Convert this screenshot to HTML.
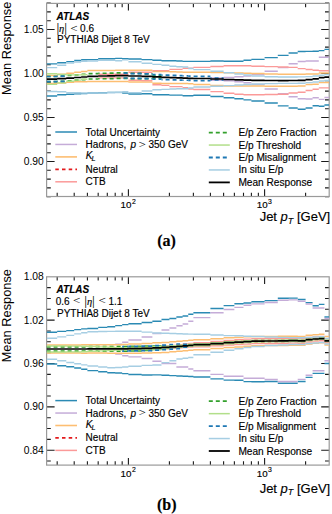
<!DOCTYPE html>
<html><head><meta charset="utf-8"><title>Mean Response</title>
<style>
html,body{margin:0;padding:0;background:#fff;}
body{width:332px;height:514px;overflow:hidden;}
svg{display:block;font-family:"Liberation Sans",sans-serif;}
text{stroke:#000;stroke-width:0.15px;fill:#000;}
text.ns{stroke:none;}
</style></head><body>
<svg width="332" height="514" viewBox="0 0 332 514">
<defs>
<clipPath id="ca"><rect x="46.6" y="3.4" width="282.59999999999997" height="193.1"/></clipPath>
<clipPath id="cb"><rect x="46.6" y="276.8" width="282.59999999999997" height="188.3"/></clipPath>
</defs>
<rect width="332" height="514" fill="#fff"/>
<g><path d="M57.18 196.5V192.7M57.18 3.4V7.199999999999999" stroke="#1a1a1a" stroke-width="1.1"/>
<path d="M74.20 196.5V192.7M74.20 3.4V7.199999999999999" stroke="#1a1a1a" stroke-width="1.1"/>
<path d="M87.40 196.5V192.7M87.40 3.4V7.199999999999999" stroke="#1a1a1a" stroke-width="1.1"/>
<path d="M98.18 196.5V192.7M98.18 3.4V7.199999999999999" stroke="#1a1a1a" stroke-width="1.1"/>
<path d="M107.30 196.5V192.7M107.30 3.4V7.199999999999999" stroke="#1a1a1a" stroke-width="1.1"/>
<path d="M115.20 196.5V192.7M115.20 3.4V7.199999999999999" stroke="#1a1a1a" stroke-width="1.1"/>
<path d="M122.17 196.5V192.7M122.17 3.4V7.199999999999999" stroke="#1a1a1a" stroke-width="1.1"/>
<path d="M169.40 196.5V192.7M169.40 3.4V7.199999999999999" stroke="#1a1a1a" stroke-width="1.1"/>
<path d="M193.38 196.5V192.7M193.38 3.4V7.199999999999999" stroke="#1a1a1a" stroke-width="1.1"/>
<path d="M210.40 196.5V192.7M210.40 3.4V7.199999999999999" stroke="#1a1a1a" stroke-width="1.1"/>
<path d="M223.60 196.5V192.7M223.60 3.4V7.199999999999999" stroke="#1a1a1a" stroke-width="1.1"/>
<path d="M234.38 196.5V192.7M234.38 3.4V7.199999999999999" stroke="#1a1a1a" stroke-width="1.1"/>
<path d="M243.50 196.5V192.7M243.50 3.4V7.199999999999999" stroke="#1a1a1a" stroke-width="1.1"/>
<path d="M251.40 196.5V192.7M251.40 3.4V7.199999999999999" stroke="#1a1a1a" stroke-width="1.1"/>
<path d="M258.37 196.5V192.7M258.37 3.4V7.199999999999999" stroke="#1a1a1a" stroke-width="1.1"/>
<path d="M305.60 196.5V192.7M305.60 3.4V7.199999999999999" stroke="#1a1a1a" stroke-width="1.1"/>
<path d="M128.40 196.5V189.3M128.40 3.4V10.6" stroke="#1a1a1a" stroke-width="1.1"/>
<path d="M264.60 196.5V189.3M264.60 3.4V10.6" stroke="#1a1a1a" stroke-width="1.1"/>
<path d="M46.6 3.10H50.800000000000004M329.2 3.10H325.0" stroke="#1a1a1a" stroke-width="1.1"/>
<path d="M46.6 11.90H50.800000000000004M329.2 11.90H325.0" stroke="#1a1a1a" stroke-width="1.1"/>
<path d="M46.6 20.70H50.800000000000004M329.2 20.70H325.0" stroke="#1a1a1a" stroke-width="1.1"/>
<path d="M46.6 38.30H50.800000000000004M329.2 38.30H325.0" stroke="#1a1a1a" stroke-width="1.1"/>
<path d="M46.6 47.10H50.800000000000004M329.2 47.10H325.0" stroke="#1a1a1a" stroke-width="1.1"/>
<path d="M46.6 55.90H50.800000000000004M329.2 55.90H325.0" stroke="#1a1a1a" stroke-width="1.1"/>
<path d="M46.6 64.70H50.800000000000004M329.2 64.70H325.0" stroke="#1a1a1a" stroke-width="1.1"/>
<path d="M46.6 82.30H50.800000000000004M329.2 82.30H325.0" stroke="#1a1a1a" stroke-width="1.1"/>
<path d="M46.6 91.10H50.800000000000004M329.2 91.10H325.0" stroke="#1a1a1a" stroke-width="1.1"/>
<path d="M46.6 99.90H50.800000000000004M329.2 99.90H325.0" stroke="#1a1a1a" stroke-width="1.1"/>
<path d="M46.6 108.70H50.800000000000004M329.2 108.70H325.0" stroke="#1a1a1a" stroke-width="1.1"/>
<path d="M46.6 126.30H50.800000000000004M329.2 126.30H325.0" stroke="#1a1a1a" stroke-width="1.1"/>
<path d="M46.6 135.10H50.800000000000004M329.2 135.10H325.0" stroke="#1a1a1a" stroke-width="1.1"/>
<path d="M46.6 143.90H50.800000000000004M329.2 143.90H325.0" stroke="#1a1a1a" stroke-width="1.1"/>
<path d="M46.6 152.70H50.800000000000004M329.2 152.70H325.0" stroke="#1a1a1a" stroke-width="1.1"/>
<path d="M46.6 170.30H50.800000000000004M329.2 170.30H325.0" stroke="#1a1a1a" stroke-width="1.1"/>
<path d="M46.6 179.10H50.800000000000004M329.2 179.10H325.0" stroke="#1a1a1a" stroke-width="1.1"/>
<path d="M46.6 187.90H50.800000000000004M329.2 187.90H325.0" stroke="#1a1a1a" stroke-width="1.1"/>
<path d="M46.6 196.70H50.800000000000004M329.2 196.70H325.0" stroke="#1a1a1a" stroke-width="1.1"/>
<path d="M46.6 29.50H54.6M329.2 29.50H321.2" stroke="#1a1a1a" stroke-width="1.1"/>
<path d="M46.6 73.50H54.6M329.2 73.50H321.2" stroke="#1a1a1a" stroke-width="1.1"/>
<path d="M46.6 117.50H54.6M329.2 117.50H321.2" stroke="#1a1a1a" stroke-width="1.1"/>
<path d="M46.6 161.50H54.6M329.2 161.50H321.2" stroke="#1a1a1a" stroke-width="1.1"/>
<rect x="46.6" y="3.4" width="282.59999999999997" height="193.1" fill="none" stroke="#9a9a9a" stroke-width="1.2"/>
<text class="ns" x="43.8" y="33.10" text-anchor="end" font-size="10.3">1.05</text>
<text class="ns" x="43.8" y="77.10" text-anchor="end" font-size="10.3">1.00</text>
<text class="ns" x="43.8" y="121.10" text-anchor="end" font-size="10.3">0.95</text>
<text class="ns" x="43.8" y="165.10" text-anchor="end" font-size="10.3">0.90</text></g>
<g><path d="M57.18 465.1V461.3M57.18 276.8V280.6" stroke="#1a1a1a" stroke-width="1.1"/>
<path d="M74.20 465.1V461.3M74.20 276.8V280.6" stroke="#1a1a1a" stroke-width="1.1"/>
<path d="M87.40 465.1V461.3M87.40 276.8V280.6" stroke="#1a1a1a" stroke-width="1.1"/>
<path d="M98.18 465.1V461.3M98.18 276.8V280.6" stroke="#1a1a1a" stroke-width="1.1"/>
<path d="M107.30 465.1V461.3M107.30 276.8V280.6" stroke="#1a1a1a" stroke-width="1.1"/>
<path d="M115.20 465.1V461.3M115.20 276.8V280.6" stroke="#1a1a1a" stroke-width="1.1"/>
<path d="M122.17 465.1V461.3M122.17 276.8V280.6" stroke="#1a1a1a" stroke-width="1.1"/>
<path d="M169.40 465.1V461.3M169.40 276.8V280.6" stroke="#1a1a1a" stroke-width="1.1"/>
<path d="M193.38 465.1V461.3M193.38 276.8V280.6" stroke="#1a1a1a" stroke-width="1.1"/>
<path d="M210.40 465.1V461.3M210.40 276.8V280.6" stroke="#1a1a1a" stroke-width="1.1"/>
<path d="M223.60 465.1V461.3M223.60 276.8V280.6" stroke="#1a1a1a" stroke-width="1.1"/>
<path d="M234.38 465.1V461.3M234.38 276.8V280.6" stroke="#1a1a1a" stroke-width="1.1"/>
<path d="M243.50 465.1V461.3M243.50 276.8V280.6" stroke="#1a1a1a" stroke-width="1.1"/>
<path d="M251.40 465.1V461.3M251.40 276.8V280.6" stroke="#1a1a1a" stroke-width="1.1"/>
<path d="M258.37 465.1V461.3M258.37 276.8V280.6" stroke="#1a1a1a" stroke-width="1.1"/>
<path d="M305.60 465.1V461.3M305.60 276.8V280.6" stroke="#1a1a1a" stroke-width="1.1"/>
<path d="M128.40 465.1V457.90000000000003M128.40 276.8V284.0" stroke="#1a1a1a" stroke-width="1.1"/>
<path d="M264.60 465.1V457.90000000000003M264.60 276.8V284.0" stroke="#1a1a1a" stroke-width="1.1"/>
<path d="M46.6 287.64H50.800000000000004M329.2 287.64H325.0" stroke="#1a1a1a" stroke-width="1.1"/>
<path d="M46.6 298.48H50.800000000000004M329.2 298.48H325.0" stroke="#1a1a1a" stroke-width="1.1"/>
<path d="M46.6 309.31H50.800000000000004M329.2 309.31H325.0" stroke="#1a1a1a" stroke-width="1.1"/>
<path d="M46.6 330.99H50.800000000000004M329.2 330.99H325.0" stroke="#1a1a1a" stroke-width="1.1"/>
<path d="M46.6 341.82H50.800000000000004M329.2 341.82H325.0" stroke="#1a1a1a" stroke-width="1.1"/>
<path d="M46.6 352.66H50.800000000000004M329.2 352.66H325.0" stroke="#1a1a1a" stroke-width="1.1"/>
<path d="M46.6 374.34H50.800000000000004M329.2 374.34H325.0" stroke="#1a1a1a" stroke-width="1.1"/>
<path d="M46.6 385.18H50.800000000000004M329.2 385.18H325.0" stroke="#1a1a1a" stroke-width="1.1"/>
<path d="M46.6 396.01H50.800000000000004M329.2 396.01H325.0" stroke="#1a1a1a" stroke-width="1.1"/>
<path d="M46.6 417.69H50.800000000000004M329.2 417.69H325.0" stroke="#1a1a1a" stroke-width="1.1"/>
<path d="M46.6 428.52H50.800000000000004M329.2 428.52H325.0" stroke="#1a1a1a" stroke-width="1.1"/>
<path d="M46.6 439.36H50.800000000000004M329.2 439.36H325.0" stroke="#1a1a1a" stroke-width="1.1"/>
<path d="M46.6 461.04H50.800000000000004M329.2 461.04H325.0" stroke="#1a1a1a" stroke-width="1.1"/>
<path d="M46.6 320.15H54.6M329.2 320.15H321.2" stroke="#1a1a1a" stroke-width="1.1"/>
<path d="M46.6 363.50H54.6M329.2 363.50H321.2" stroke="#1a1a1a" stroke-width="1.1"/>
<path d="M46.6 406.85H54.6M329.2 406.85H321.2" stroke="#1a1a1a" stroke-width="1.1"/>
<path d="M46.6 450.20H54.6M329.2 450.20H321.2" stroke="#1a1a1a" stroke-width="1.1"/>
<rect x="46.6" y="276.8" width="282.59999999999997" height="188.3" fill="none" stroke="#9a9a9a" stroke-width="1.2"/>
<text class="ns" x="43.8" y="280.40" text-anchor="end" font-size="10.3">1.08</text>
<text class="ns" x="43.8" y="323.75" text-anchor="end" font-size="10.3">1.02</text>
<text class="ns" x="43.8" y="367.10" text-anchor="end" font-size="10.3">0.96</text>
<text class="ns" x="43.8" y="410.45" text-anchor="end" font-size="10.3">0.90</text>
<text class="ns" x="43.8" y="453.80" text-anchor="end" font-size="10.3">0.84</text></g>
<g clip-path="url(#ca)"><path d="M46.60 63.90H57.18M57.18 62.80H66.30M66.30 61.60H74.20M74.20 60.50H81.17M81.17 59.80H87.40M87.40 59.60H98.18M98.18 58.70H107.30M107.30 58.70H115.20M115.20 58.40H122.17M122.17 58.70H128.40M128.40 59.00H141.60M141.60 59.60H152.38M152.38 60.20H161.50M161.50 60.70H169.40M169.40 60.70H176.37M176.37 61.00H182.60M182.60 61.40H188.24M188.24 61.40H193.38M193.38 61.40H210.40M210.40 61.00H223.60M223.60 61.30H234.38M234.38 61.30H243.50M243.50 60.20H251.40M251.40 59.40H264.60M264.60 57.60H277.80M277.80 55.40H288.58M288.58 53.00H297.70M297.70 51.50H305.60M305.60 51.40H312.57M312.57 51.20H318.80M318.80 50.60H324.44M324.44 49.40H329.20" stroke="#2b8ab4" stroke-width="1.4" fill="none"/>
<path d="M46.60 96.00H57.18M57.18 94.80H66.30M66.30 94.20H74.20M74.20 93.90H81.17M81.17 93.60H87.40M87.40 93.00H98.18M98.18 92.70H107.30M107.30 92.40H115.20M115.20 92.40H122.17M122.17 93.10H128.40M128.40 94.00H141.60M141.60 93.70H152.38M152.38 94.70H161.50M161.50 94.70H169.40M169.40 95.10H176.37M176.37 95.10H182.60M182.60 95.70H188.24M188.24 95.70H193.38M193.38 95.30H210.40M210.40 96.50H223.60M223.60 97.80H234.38M234.38 98.70H243.50M243.50 99.90H251.40M251.40 101.00H264.60M264.60 103.00H277.80M277.80 105.90H288.58M288.58 108.00H297.70M297.70 109.30H305.60M305.60 108.00H312.57M312.57 105.70H318.80M318.80 106.30H324.44M324.44 105.00H329.20" stroke="#2b8ab4" stroke-width="1.4" fill="none"/>
<path d="M210.40 78.00H223.60M223.60 77.50H234.38M234.38 76.80H243.50M243.50 76.00H251.40M251.40 74.60H264.60M264.60 71.30H277.80M277.80 67.60H288.58M288.58 63.80H297.70M297.70 61.50H305.60M305.60 61.00H312.57M312.57 61.00H318.80M318.80 57.30H324.44M324.44 57.30H329.20" stroke="#c5acd8" stroke-width="1.4" fill="none"/>
<path d="M210.40 80.20H223.60M223.60 80.80H234.38M234.38 81.80H243.50M243.50 82.70H251.40M251.40 84.50H264.60M264.60 89.00H277.80M277.80 93.60H288.58M288.58 96.80H297.70M297.70 98.80H305.60M305.60 99.00H312.57M312.57 97.80H318.80M318.80 99.40H324.44M324.44 97.50H329.20" stroke="#c5acd8" stroke-width="1.4" fill="none"/>
<path d="M46.60 75.40H57.18M57.18 74.20H66.30M66.30 73.20H74.20M74.20 72.30H81.17M81.17 71.40H87.40M87.40 70.60H98.18M98.18 70.50H107.30M107.30 70.40H115.20M115.20 70.30H122.17M122.17 70.30H128.40M128.40 70.20H141.60M141.60 70.30H152.38M152.38 71.50H161.50M161.50 71.60H169.40M169.40 71.80H176.37M176.37 72.00H182.60M182.60 72.20H188.24M188.24 72.30H193.38M193.38 72.30H210.40M210.40 72.50H223.60M223.60 72.80H234.38M234.38 73.00H243.50M243.50 73.30H251.40M251.40 73.60H264.60M264.60 74.00H277.80M277.80 74.20H288.58M288.58 74.20H297.70M297.70 74.20H305.60M305.60 74.10H312.57M312.57 74.00H318.80M318.80 73.10H324.44M324.44 73.10H329.20" stroke="#fdbe72" stroke-width="1.5" fill="none"/>
<path d="M46.60 83.50H57.18M57.18 82.90H66.30M66.30 82.30H74.20M74.20 81.70H81.17M81.17 81.70H87.40M87.40 81.50H98.18M98.18 81.50H107.30M107.30 81.50H115.20M115.20 81.50H122.17M122.17 81.50H128.40M128.40 82.00H141.60M141.60 82.00H152.38M152.38 83.30H161.50M161.50 83.50H169.40M169.40 83.60H176.37M176.37 83.60H182.60M182.60 83.60H188.24M188.24 83.70H193.38M193.38 84.40H210.40M210.40 85.40H223.60M223.60 85.90H234.38M234.38 86.00H243.50M243.50 86.00H251.40M251.40 86.10H264.60M264.60 86.30H277.80M277.80 86.30H288.58M288.58 86.30H297.70M297.70 86.10H305.60M305.60 84.60H312.57M312.57 84.30H318.80M318.80 82.50H324.44M324.44 82.50H329.20" stroke="#fdbe72" stroke-width="1.5" fill="none"/>
<path d="M98.18 74.20H107.30M107.30 74.20H115.20M115.20 74.20H122.17M122.17 74.20H128.40M128.40 72.20H141.60M141.60 72.20H152.38M152.38 70.60H161.50M161.50 70.60H169.40M169.40 69.40H176.37M176.37 69.40H182.60M182.60 68.20H188.24M188.24 68.20H193.38M193.38 67.40H210.40M210.40 66.50H223.60M223.60 65.70H234.38M234.38 65.70H243.50M243.50 65.70H251.40M251.40 66.30H264.60M264.60 66.60H277.80M277.80 67.00H288.58M288.58 67.40H297.70M297.70 68.60H305.60M305.60 69.50H312.57M312.57 70.20H318.80M318.80 70.70H324.44M324.44 70.70H329.20" stroke="#fb9a99" stroke-width="1.4" fill="none"/>
<path d="M98.18 77.90H107.30M107.30 77.90H115.20M115.20 77.90H122.17M122.17 77.90H128.40M128.40 80.30H141.60M141.60 80.60H152.38M152.38 84.80H161.50M161.50 85.40H169.40M169.40 86.60H176.37M176.37 86.60H182.60M182.60 87.80H188.24M188.24 89.00H193.38M193.38 89.50H210.40M210.40 91.60H223.60M223.60 93.20H234.38M234.38 94.20H243.50M243.50 94.70H251.40M251.40 94.70H264.60M264.60 94.50H277.80M277.80 94.20H288.58M288.58 93.00H297.70M297.70 92.20H305.60M305.60 90.50H312.57M312.57 89.20H318.80M318.80 87.90H324.44M324.44 87.90H329.20" stroke="#fb9a99" stroke-width="1.4" fill="none"/>
<path d="M46.60 76.50H57.18" stroke="#33a02c" stroke-width="1.7" fill="none" stroke-dasharray="4 3" stroke-dashoffset="0.00"/>
<path d="M57.18 76.08H66.30" stroke="#33a02c" stroke-width="1.7" fill="none" stroke-dasharray="4 3" stroke-dashoffset="3.58"/>
<path d="M66.30 75.45H74.20" stroke="#33a02c" stroke-width="1.7" fill="none" stroke-dasharray="4 3" stroke-dashoffset="5.70"/>
<path d="M74.20 74.83H81.17" stroke="#33a02c" stroke-width="1.7" fill="none" stroke-dasharray="4 3" stroke-dashoffset="6.60"/>
<path d="M81.17 74.30H87.40" stroke="#33a02c" stroke-width="1.7" fill="none" stroke-dasharray="4 3" stroke-dashoffset="6.57"/>
<path d="M87.40 73.58H98.18" stroke="#33a02c" stroke-width="1.7" fill="none" stroke-dasharray="4 3" stroke-dashoffset="5.80"/>
<path d="M98.18 73.26H107.30" stroke="#33a02c" stroke-width="1.7" fill="none" stroke-dasharray="4 3" stroke-dashoffset="2.58"/>
<path d="M107.30 73.04H115.20" stroke="#33a02c" stroke-width="1.7" fill="none" stroke-dasharray="4 3" stroke-dashoffset="4.70"/>
<path d="M115.20 72.82H122.17" stroke="#33a02c" stroke-width="1.7" fill="none" stroke-dasharray="4 3" stroke-dashoffset="5.60"/>
<path d="M122.17 72.80H128.40" stroke="#33a02c" stroke-width="1.7" fill="none" stroke-dasharray="4 3" stroke-dashoffset="5.57"/>
<path d="M128.40 73.40H141.60" stroke="#33a02c" stroke-width="1.7" fill="none" stroke-dasharray="4 3" stroke-dashoffset="4.80"/>
<path d="M141.60 73.90H152.38" stroke="#33a02c" stroke-width="1.7" fill="none" stroke-dasharray="4 3" stroke-dashoffset="4.00"/>
<path d="M152.38 75.70H161.50" stroke="#33a02c" stroke-width="1.7" fill="none" stroke-dasharray="4 3" stroke-dashoffset="0.78"/>
<path d="M46.60 81.70H57.18" stroke="#33a02c" stroke-width="1.7" fill="none" stroke-dasharray="4 3" stroke-dashoffset="0.00"/>
<path d="M57.18 81.33H66.30" stroke="#33a02c" stroke-width="1.7" fill="none" stroke-dasharray="4 3" stroke-dashoffset="3.58"/>
<path d="M66.30 80.75H74.20" stroke="#33a02c" stroke-width="1.7" fill="none" stroke-dasharray="4 3" stroke-dashoffset="5.70"/>
<path d="M74.20 80.17H81.17" stroke="#33a02c" stroke-width="1.7" fill="none" stroke-dasharray="4 3" stroke-dashoffset="6.60"/>
<path d="M81.17 79.70H87.40" stroke="#33a02c" stroke-width="1.7" fill="none" stroke-dasharray="4 3" stroke-dashoffset="6.57"/>
<path d="M87.40 79.02H98.18" stroke="#33a02c" stroke-width="1.7" fill="none" stroke-dasharray="4 3" stroke-dashoffset="5.80"/>
<path d="M98.18 78.74H107.30" stroke="#33a02c" stroke-width="1.7" fill="none" stroke-dasharray="4 3" stroke-dashoffset="2.58"/>
<path d="M107.30 78.56H115.20" stroke="#33a02c" stroke-width="1.7" fill="none" stroke-dasharray="4 3" stroke-dashoffset="4.70"/>
<path d="M115.20 78.38H122.17" stroke="#33a02c" stroke-width="1.7" fill="none" stroke-dasharray="4 3" stroke-dashoffset="5.60"/>
<path d="M122.17 78.40H128.40" stroke="#33a02c" stroke-width="1.7" fill="none" stroke-dasharray="4 3" stroke-dashoffset="5.57"/>
<path d="M128.40 78.60H141.60" stroke="#33a02c" stroke-width="1.7" fill="none" stroke-dasharray="4 3" stroke-dashoffset="4.80"/>
<path d="M141.60 78.70H152.38" stroke="#33a02c" stroke-width="1.7" fill="none" stroke-dasharray="4 3" stroke-dashoffset="4.00"/>
<path d="M152.38 78.10H161.50" stroke="#33a02c" stroke-width="1.7" fill="none" stroke-dasharray="4 3" stroke-dashoffset="0.78"/>
<path d="M46.60 73.80H57.18M57.18 74.50H66.30M66.30 74.90H74.20M74.20 74.90H81.17M81.17 74.70H87.40" stroke="#b2df8a" stroke-width="1.4" fill="none"/>
<path d="M46.60 84.40H57.18M57.18 82.90H66.30M66.30 81.30H74.20M74.20 80.10H81.17M81.17 79.30H87.40" stroke="#b2df8a" stroke-width="1.4" fill="none"/>
<path d="M46.60 76.50H57.18" stroke="#1f78b4" stroke-width="1.7" fill="none" stroke-dasharray="4 3" stroke-dashoffset="0.00"/>
<path d="M57.18 76.10H66.30" stroke="#1f78b4" stroke-width="1.7" fill="none" stroke-dasharray="4 3" stroke-dashoffset="3.58"/>
<path d="M122.17 73.20H128.40" stroke="#1f78b4" stroke-width="1.7" fill="none" stroke-dasharray="4 3" stroke-dashoffset="5.57"/>
<path d="M128.40 73.63H141.60" stroke="#1f78b4" stroke-width="1.7" fill="none" stroke-dasharray="4 3" stroke-dashoffset="4.80"/>
<path d="M141.60 73.97H152.38" stroke="#1f78b4" stroke-width="1.7" fill="none" stroke-dasharray="4 3" stroke-dashoffset="4.00"/>
<path d="M152.38 74.60H161.50" stroke="#1f78b4" stroke-width="1.7" fill="none" stroke-dasharray="4 3" stroke-dashoffset="0.78"/>
<path d="M161.50 75.03H169.40" stroke="#1f78b4" stroke-width="1.7" fill="none" stroke-dasharray="4 3" stroke-dashoffset="2.90"/>
<path d="M169.40 75.37H176.37" stroke="#1f78b4" stroke-width="1.7" fill="none" stroke-dasharray="4 3" stroke-dashoffset="3.80"/>
<path d="M176.37 75.70H182.60" stroke="#1f78b4" stroke-width="1.7" fill="none" stroke-dasharray="4 3" stroke-dashoffset="3.77"/>
<path d="M182.60 75.93H188.24" stroke="#1f78b4" stroke-width="1.7" fill="none" stroke-dasharray="4 3" stroke-dashoffset="3.00"/>
<path d="M188.24 76.17H193.38" stroke="#1f78b4" stroke-width="1.7" fill="none" stroke-dasharray="4 3" stroke-dashoffset="1.64"/>
<path d="M193.38 76.40H210.40" stroke="#1f78b4" stroke-width="1.7" fill="none" stroke-dasharray="4 3" stroke-dashoffset="6.78"/>
<path d="M210.40 78.00H223.60" stroke="#1f78b4" stroke-width="1.7" fill="none" stroke-dasharray="4 3" stroke-dashoffset="2.80"/>
<path d="M46.60 81.70H57.18" stroke="#1f78b4" stroke-width="1.7" fill="none" stroke-dasharray="4 3" stroke-dashoffset="0.00"/>
<path d="M57.18 81.30H66.30" stroke="#1f78b4" stroke-width="1.7" fill="none" stroke-dasharray="4 3" stroke-dashoffset="3.58"/>
<path d="M122.17 78.00H128.40" stroke="#1f78b4" stroke-width="1.7" fill="none" stroke-dasharray="4 3" stroke-dashoffset="5.57"/>
<path d="M128.40 78.37H141.60" stroke="#1f78b4" stroke-width="1.7" fill="none" stroke-dasharray="4 3" stroke-dashoffset="4.80"/>
<path d="M141.60 78.63H152.38" stroke="#1f78b4" stroke-width="1.7" fill="none" stroke-dasharray="4 3" stroke-dashoffset="4.00"/>
<path d="M152.38 79.20H161.50" stroke="#1f78b4" stroke-width="1.7" fill="none" stroke-dasharray="4 3" stroke-dashoffset="0.78"/>
<path d="M161.50 79.57H169.40" stroke="#1f78b4" stroke-width="1.7" fill="none" stroke-dasharray="4 3" stroke-dashoffset="2.90"/>
<path d="M169.40 79.83H176.37" stroke="#1f78b4" stroke-width="1.7" fill="none" stroke-dasharray="4 3" stroke-dashoffset="3.80"/>
<path d="M176.37 80.10H182.60" stroke="#1f78b4" stroke-width="1.7" fill="none" stroke-dasharray="4 3" stroke-dashoffset="3.77"/>
<path d="M182.60 80.27H188.24" stroke="#1f78b4" stroke-width="1.7" fill="none" stroke-dasharray="4 3" stroke-dashoffset="3.00"/>
<path d="M188.24 80.43H193.38" stroke="#1f78b4" stroke-width="1.7" fill="none" stroke-dasharray="4 3" stroke-dashoffset="1.64"/>
<path d="M193.38 80.60H210.40" stroke="#1f78b4" stroke-width="1.7" fill="none" stroke-dasharray="4 3" stroke-dashoffset="6.78"/>
<path d="M210.40 80.00H223.60" stroke="#1f78b4" stroke-width="1.7" fill="none" stroke-dasharray="4 3" stroke-dashoffset="2.80"/>
<path d="M46.60 67.60H57.18M57.18 65.20H66.30M66.30 63.00H74.20M74.20 62.00H81.17M81.17 61.20H87.40M87.40 61.00H98.18M98.18 60.40H107.30M107.30 60.40H115.20M115.20 60.80H122.17M122.17 59.90H128.40M128.40 61.80H141.60M141.60 63.30H152.38M152.38 64.40H161.50M161.50 65.30H169.40M169.40 66.20H176.37M176.37 66.80H182.60M182.60 67.00H188.24M188.24 68.50H193.38M193.38 69.60H210.40M210.40 71.30H223.60M223.60 72.80H234.38M234.38 74.00H243.50M243.50 75.00H251.40M251.40 76.00H264.60M264.60 76.80H277.80M277.80 77.00H288.58M288.58 77.00H297.70M297.70 76.90H305.60M305.60 76.60H312.57M312.57 76.00H318.80M318.80 75.20H324.44M324.44 74.60H329.20" stroke="#a6cee3" stroke-width="1.4" fill="none"/>
<path d="M46.60 91.50H57.18M57.18 91.80H66.30M66.30 92.70H74.20M74.20 92.70H81.17M81.17 93.00H87.40M87.40 93.00H98.18M98.18 92.90H107.30M107.30 92.70H115.20M115.20 92.50H122.17M122.17 91.60H128.40M128.40 92.60H141.60M141.60 91.00H152.38M152.38 89.80H161.50M161.50 89.40H169.40M169.40 89.00H176.37M176.37 88.70H182.60M182.60 88.70H188.24M188.24 88.00H193.38M193.38 87.00H210.40M210.40 86.30H223.60M223.60 85.60H234.38M234.38 85.00H243.50M243.50 84.50H251.40M251.40 84.00H264.60M264.60 83.60H277.80M277.80 83.40H288.58M288.58 83.40H297.70M297.70 83.20H305.60M305.60 82.60H312.57M312.57 82.00H318.80M318.80 81.00H324.44M324.44 80.50H329.20" stroke="#a6cee3" stroke-width="1.4" fill="none"/>
<path d="M46.60 79.10H57.18M57.18 78.70H66.30M66.30 78.10H74.20M74.20 77.50H81.17M81.17 77.00H87.40M87.40 76.30H98.18M98.18 76.00H107.30M107.30 75.80H115.20M115.20 75.60H122.17M122.17 75.60H128.40M128.40 76.00H141.60M141.60 76.30H152.38M152.38 76.90H161.50M161.50 77.30H169.40M169.40 77.60H176.37M176.37 77.90H182.60M182.60 78.10H188.24M188.24 78.30H193.38M193.38 78.50H210.40M210.40 79.00H223.60M223.60 79.50H234.38M234.38 79.80H243.50M243.50 80.10H251.40M251.40 80.30H264.60M264.60 80.50H277.80M277.80 80.60H288.58M288.58 80.50H297.70M297.70 80.30H305.60M305.60 79.70H312.57M312.57 78.90H318.80M318.80 77.70H324.44M324.44 77.10H329.20" stroke="#000" stroke-width="1.7" fill="none"/></g>
<g clip-path="url(#cb)"><path d="M46.60 332.30H57.18M57.18 331.40H66.30M66.30 330.60H74.20M74.20 329.60H81.17M81.17 328.90H87.40M87.40 328.50H98.18M98.18 327.40H107.30M107.30 326.70H115.20M115.20 325.60H122.17M122.17 324.60H128.40M128.40 323.70H141.60M141.60 322.50H152.38M152.38 321.30H161.50M161.50 319.50H169.40M169.40 318.50H176.37M176.37 317.00H182.60M182.60 316.00H188.24M188.24 314.30H193.38M193.38 312.70H210.40M210.40 308.50H223.60M223.60 305.60H234.38M234.38 303.70H243.50M243.50 303.00H251.40M251.40 301.70H264.60M264.60 300.60H277.80M277.80 298.30H288.58M288.58 298.10H297.70M297.70 299.50H305.60M305.60 302.60H312.57M312.57 305.70H318.80M318.80 304.40H324.44M324.44 317.00H329.20" stroke="#2b8ab4" stroke-width="1.4" fill="none"/>
<path d="M46.60 364.00H57.18M57.18 365.80H66.30M66.30 366.70H74.20M74.20 368.00H81.17M81.17 369.30H87.40M87.40 370.60H98.18M98.18 371.80H107.30M107.30 372.70H115.20M115.20 373.00H122.17M122.17 373.60H128.40M128.40 374.50H141.60M141.60 375.00H152.38M152.38 374.90H161.50M161.50 375.30H169.40M169.40 375.60H176.37M176.37 376.00H182.60M182.60 376.20H188.24M188.24 376.50H193.38M193.38 377.00H210.40M210.40 378.90H223.60M223.60 380.10H234.38M234.38 380.30H243.50M243.50 381.60H251.40M251.40 381.80H264.60M264.60 381.50H277.80M277.80 383.30H288.58M288.58 383.30H297.70M297.70 381.50H305.60M305.60 377.40H312.57M312.57 373.40H318.80M318.80 373.40H324.44M324.44 363.50H329.20" stroke="#2b8ab4" stroke-width="1.4" fill="none"/>
<path d="M115.20 344.30H122.17M122.17 342.20H128.40M128.40 340.00H141.60M141.60 337.00H152.38M152.38 333.50H161.50M161.50 330.00H169.40M169.40 328.00H176.37M176.37 325.70H182.60M182.60 324.00H188.24M188.24 321.20H193.38M193.38 317.60H210.40M210.40 312.70H223.60M223.60 309.50H234.38M234.38 307.40H243.50M243.50 305.30H251.40M251.40 303.90H264.60M264.60 302.50H277.80M277.80 300.20H288.58M288.58 299.90H297.70M297.70 301.20H305.60M305.60 304.00H312.57M312.57 308.00H318.80M318.80 308.00H324.44M324.44 318.50H329.20" stroke="#c5acd8" stroke-width="1.4" fill="none"/>
<path d="M115.20 354.00H122.17M122.17 355.70H128.40M128.40 356.90H141.60M141.60 358.50H152.38M152.38 361.20H161.50M161.50 363.50H169.40M169.40 363.50H176.37M176.37 367.00H182.60M182.60 367.00H188.24M188.24 369.00H193.38M193.38 370.70H210.40M210.40 374.40H223.60M223.60 376.20H234.38M234.38 376.20H243.50M243.50 378.30H251.40M251.40 378.30H264.60M264.60 379.50H277.80M277.80 381.50H288.58M288.58 381.50H297.70M297.70 379.40H305.60M305.60 375.20H312.57M312.57 370.70H318.80M318.80 370.70H324.44M324.44 360.70H329.20" stroke="#c5acd8" stroke-width="1.4" fill="none"/>
<path d="M46.60 345.00H57.18M57.18 344.97H66.30M66.30 344.93H74.20M74.20 344.90H81.17M81.17 344.87H87.40M87.40 344.73H98.18M98.18 344.70H107.30M107.30 344.67H115.20M115.20 344.63H122.17M122.17 344.60H128.40M128.40 344.07H141.60M141.60 343.53H152.38M152.38 342.80H161.50M161.50 342.40H169.40M169.40 341.80H176.37M176.37 341.30H182.60M182.60 340.80H188.24M188.24 340.30H193.38M193.38 339.70H210.40M210.40 338.67H223.60M223.60 337.83H234.38M234.38 337.40H243.50M243.50 336.87H251.40M251.40 336.43H264.60M264.60 336.40H277.80M277.80 336.36H288.58M288.58 336.21H297.70M297.70 336.47H305.60M305.60 335.33H312.57M312.57 334.69H318.80M318.80 334.34H324.44M324.44 336.60H329.20" stroke="#fdbe72" stroke-width="1.5" fill="none"/>
<path d="M46.60 353.00H57.18M57.18 353.03H66.30M66.30 353.07H74.20M74.20 353.10H81.17M81.17 353.13H87.40M87.40 353.07H98.18M98.18 353.10H107.30M107.30 353.13H115.20M115.20 353.17H122.17M122.17 353.20H128.40M128.40 353.13H141.60M141.60 353.07H152.38M152.38 352.80H161.50M161.50 352.40H169.40M169.40 351.80H176.37M176.37 351.30H182.60M182.60 350.80H188.24M188.24 350.30H193.38M193.38 349.70H210.40M210.40 348.53H223.60M223.60 347.57H234.38M234.38 347.00H243.50M243.50 346.33H251.40M251.40 345.77H264.60M264.60 345.60H277.80M277.80 345.44H288.58M288.58 345.19H297.70M297.70 345.33H305.60M305.60 344.07H312.57M312.57 343.31H318.80M318.80 342.86H324.44M324.44 345.00H329.20" stroke="#fdbe72" stroke-width="1.5" fill="none"/>
<path d="M128.40 347.80H141.60" stroke="#e31a1c" stroke-width="1.6" fill="none" stroke-dasharray="3.5 3.2" stroke-dashoffset="1.40"/>
<path d="M141.60 347.50H152.38" stroke="#e31a1c" stroke-width="1.6" fill="none" stroke-dasharray="3.5 3.2" stroke-dashoffset="1.20"/>
<path d="M152.38 347.00H161.50" stroke="#e31a1c" stroke-width="1.6" fill="none" stroke-dasharray="3.5 3.2" stroke-dashoffset="5.28"/>
<path d="M161.50 346.60H169.40" stroke="#e31a1c" stroke-width="1.6" fill="none" stroke-dasharray="3.5 3.2" stroke-dashoffset="1.00"/>
<path d="M169.40 346.00H176.37" stroke="#e31a1c" stroke-width="1.6" fill="none" stroke-dasharray="3.5 3.2" stroke-dashoffset="2.20"/>
<path d="M176.37 345.50H182.60" stroke="#e31a1c" stroke-width="1.6" fill="none" stroke-dasharray="3.5 3.2" stroke-dashoffset="2.47"/>
<path d="M182.60 345.00H188.24" stroke="#e31a1c" stroke-width="1.6" fill="none" stroke-dasharray="3.5 3.2" stroke-dashoffset="2.00"/>
<path d="M188.24 344.50H193.38" stroke="#e31a1c" stroke-width="1.6" fill="none" stroke-dasharray="3.5 3.2" stroke-dashoffset="0.94"/>
<path d="M193.38 343.90H210.40" stroke="#e31a1c" stroke-width="1.6" fill="none" stroke-dasharray="3.5 3.2" stroke-dashoffset="6.08"/>
<path d="M210.40 342.80H223.60" stroke="#e31a1c" stroke-width="1.6" fill="none" stroke-dasharray="3.5 3.2" stroke-dashoffset="3.00"/>
<path d="M223.60 341.90H234.38" stroke="#e31a1c" stroke-width="1.6" fill="none" stroke-dasharray="3.5 3.2" stroke-dashoffset="2.80"/>
<path d="M234.38 341.40H243.50" stroke="#e31a1c" stroke-width="1.6" fill="none" stroke-dasharray="3.5 3.2" stroke-dashoffset="0.18"/>
<path d="M243.50 340.80H251.40" stroke="#e31a1c" stroke-width="1.6" fill="none" stroke-dasharray="3.5 3.2" stroke-dashoffset="2.60"/>
<path d="M251.40 340.30H264.60" stroke="#e31a1c" stroke-width="1.6" fill="none" stroke-dasharray="3.5 3.2" stroke-dashoffset="3.80"/>
<path d="M264.60 340.20H277.80" stroke="#e31a1c" stroke-width="1.6" fill="none" stroke-dasharray="3.5 3.2" stroke-dashoffset="3.60"/>
<path d="M277.80 340.10H288.58" stroke="#e31a1c" stroke-width="1.6" fill="none" stroke-dasharray="3.5 3.2" stroke-dashoffset="3.40"/>
<path d="M288.58 339.90H297.70" stroke="#e31a1c" stroke-width="1.6" fill="none" stroke-dasharray="3.5 3.2" stroke-dashoffset="0.78"/>
<path d="M297.70 340.10H305.60" stroke="#e31a1c" stroke-width="1.6" fill="none" stroke-dasharray="3.5 3.2" stroke-dashoffset="3.20"/>
<path d="M305.60 338.90H312.57" stroke="#e31a1c" stroke-width="1.6" fill="none" stroke-dasharray="3.5 3.2" stroke-dashoffset="4.40"/>
<path d="M312.57 338.20H318.80" stroke="#e31a1c" stroke-width="1.6" fill="none" stroke-dasharray="3.5 3.2" stroke-dashoffset="4.67"/>
<path d="M318.80 337.80H324.44" stroke="#e31a1c" stroke-width="1.6" fill="none" stroke-dasharray="3.5 3.2" stroke-dashoffset="4.20"/>
<path d="M324.44 340.00H329.20" stroke="#e31a1c" stroke-width="1.6" fill="none" stroke-dasharray="3.5 3.2" stroke-dashoffset="3.14"/>
<path d="M128.40 349.40H141.60" stroke="#e31a1c" stroke-width="1.6" fill="none" stroke-dasharray="3.5 3.2" stroke-dashoffset="1.40"/>
<path d="M141.60 349.10H152.38" stroke="#e31a1c" stroke-width="1.6" fill="none" stroke-dasharray="3.5 3.2" stroke-dashoffset="1.20"/>
<path d="M152.38 348.60H161.50" stroke="#e31a1c" stroke-width="1.6" fill="none" stroke-dasharray="3.5 3.2" stroke-dashoffset="5.28"/>
<path d="M161.50 348.20H169.40" stroke="#e31a1c" stroke-width="1.6" fill="none" stroke-dasharray="3.5 3.2" stroke-dashoffset="1.00"/>
<path d="M169.40 347.60H176.37" stroke="#e31a1c" stroke-width="1.6" fill="none" stroke-dasharray="3.5 3.2" stroke-dashoffset="2.20"/>
<path d="M176.37 347.10H182.60" stroke="#e31a1c" stroke-width="1.6" fill="none" stroke-dasharray="3.5 3.2" stroke-dashoffset="2.47"/>
<path d="M182.60 346.60H188.24" stroke="#e31a1c" stroke-width="1.6" fill="none" stroke-dasharray="3.5 3.2" stroke-dashoffset="2.00"/>
<path d="M188.24 346.10H193.38" stroke="#e31a1c" stroke-width="1.6" fill="none" stroke-dasharray="3.5 3.2" stroke-dashoffset="0.94"/>
<path d="M193.38 345.50H210.40" stroke="#e31a1c" stroke-width="1.6" fill="none" stroke-dasharray="3.5 3.2" stroke-dashoffset="6.08"/>
<path d="M210.40 344.40H223.60" stroke="#e31a1c" stroke-width="1.6" fill="none" stroke-dasharray="3.5 3.2" stroke-dashoffset="3.00"/>
<path d="M223.60 343.50H234.38" stroke="#e31a1c" stroke-width="1.6" fill="none" stroke-dasharray="3.5 3.2" stroke-dashoffset="2.80"/>
<path d="M234.38 343.00H243.50" stroke="#e31a1c" stroke-width="1.6" fill="none" stroke-dasharray="3.5 3.2" stroke-dashoffset="0.18"/>
<path d="M243.50 342.40H251.40" stroke="#e31a1c" stroke-width="1.6" fill="none" stroke-dasharray="3.5 3.2" stroke-dashoffset="2.60"/>
<path d="M251.40 341.90H264.60" stroke="#e31a1c" stroke-width="1.6" fill="none" stroke-dasharray="3.5 3.2" stroke-dashoffset="3.80"/>
<path d="M264.60 341.80H277.80" stroke="#e31a1c" stroke-width="1.6" fill="none" stroke-dasharray="3.5 3.2" stroke-dashoffset="3.60"/>
<path d="M277.80 341.70H288.58" stroke="#e31a1c" stroke-width="1.6" fill="none" stroke-dasharray="3.5 3.2" stroke-dashoffset="3.40"/>
<path d="M288.58 341.50H297.70" stroke="#e31a1c" stroke-width="1.6" fill="none" stroke-dasharray="3.5 3.2" stroke-dashoffset="0.78"/>
<path d="M297.70 341.70H305.60" stroke="#e31a1c" stroke-width="1.6" fill="none" stroke-dasharray="3.5 3.2" stroke-dashoffset="3.20"/>
<path d="M305.60 340.50H312.57" stroke="#e31a1c" stroke-width="1.6" fill="none" stroke-dasharray="3.5 3.2" stroke-dashoffset="4.40"/>
<path d="M312.57 339.80H318.80" stroke="#e31a1c" stroke-width="1.6" fill="none" stroke-dasharray="3.5 3.2" stroke-dashoffset="4.67"/>
<path d="M318.80 339.40H324.44" stroke="#e31a1c" stroke-width="1.6" fill="none" stroke-dasharray="3.5 3.2" stroke-dashoffset="4.20"/>
<path d="M324.44 341.60H329.20" stroke="#e31a1c" stroke-width="1.6" fill="none" stroke-dasharray="3.5 3.2" stroke-dashoffset="3.14"/>
<path d="M128.40 347.70H141.60M141.60 347.25H152.38M152.38 346.60H161.50M161.50 346.07H169.40M169.40 345.33H176.37M176.37 344.70H182.60M182.60 344.07H188.24M188.24 343.43H193.38M193.38 342.70H210.40M210.40 341.48H223.60M223.60 340.45H234.38M234.38 339.82H243.50M243.50 339.10H251.40M251.40 338.62H264.60M264.60 338.55H277.80M277.80 338.47H288.58M288.58 338.30H297.70M297.70 338.58H305.60M305.60 337.46H312.57M312.57 336.84H318.80M318.80 336.52H324.44M324.44 338.80H329.20" stroke="#fb9a99" stroke-width="1.4" fill="none"/>
<path d="M128.40 349.50H141.60M141.60 349.35H152.38M152.38 349.00H161.50M161.50 348.73H169.40M169.40 348.27H176.37M176.37 347.90H182.60M182.60 347.53H188.24M188.24 347.17H193.38M193.38 346.70H210.40M210.40 345.73H223.60M223.60 344.95H234.38M234.38 344.57H243.50M243.50 344.10H251.40M251.40 343.58H264.60M264.60 343.45H277.80M277.80 343.32H288.58M288.58 343.10H297.70M297.70 343.22H305.60M305.60 341.94H312.57M312.57 341.16H318.80M318.80 340.68H324.44M324.44 342.80H329.20" stroke="#fb9a99" stroke-width="1.4" fill="none"/>
<path d="M46.60 346.80H57.18" stroke="#33a02c" stroke-width="1.7" fill="none" stroke-dasharray="4 3" stroke-dashoffset="0.00"/>
<path d="M57.18 346.80H66.30" stroke="#33a02c" stroke-width="1.7" fill="none" stroke-dasharray="4 3" stroke-dashoffset="3.58"/>
<path d="M66.30 346.80H74.20" stroke="#33a02c" stroke-width="1.7" fill="none" stroke-dasharray="4 3" stroke-dashoffset="5.70"/>
<path d="M74.20 346.80H81.17" stroke="#33a02c" stroke-width="1.7" fill="none" stroke-dasharray="4 3" stroke-dashoffset="6.60"/>
<path d="M81.17 346.80H87.40" stroke="#33a02c" stroke-width="1.7" fill="none" stroke-dasharray="4 3" stroke-dashoffset="6.57"/>
<path d="M87.40 346.70H98.18" stroke="#33a02c" stroke-width="1.7" fill="none" stroke-dasharray="4 3" stroke-dashoffset="5.80"/>
<path d="M98.18 346.70H107.30" stroke="#33a02c" stroke-width="1.7" fill="none" stroke-dasharray="4 3" stroke-dashoffset="2.58"/>
<path d="M107.30 346.70H115.20" stroke="#33a02c" stroke-width="1.7" fill="none" stroke-dasharray="4 3" stroke-dashoffset="4.70"/>
<path d="M115.20 346.70H122.17" stroke="#33a02c" stroke-width="1.7" fill="none" stroke-dasharray="4 3" stroke-dashoffset="5.60"/>
<path d="M122.17 346.70H128.40" stroke="#33a02c" stroke-width="1.7" fill="none" stroke-dasharray="4 3" stroke-dashoffset="5.57"/>
<path d="M128.40 346.40H141.60" stroke="#33a02c" stroke-width="1.7" fill="none" stroke-dasharray="4 3" stroke-dashoffset="4.80"/>
<path d="M141.60 346.10H152.38" stroke="#33a02c" stroke-width="1.7" fill="none" stroke-dasharray="4 3" stroke-dashoffset="4.00"/>
<path d="M152.38 346.20H161.50" stroke="#33a02c" stroke-width="1.7" fill="none" stroke-dasharray="4 3" stroke-dashoffset="0.78"/>
<path d="M46.60 351.20H57.18" stroke="#33a02c" stroke-width="1.7" fill="none" stroke-dasharray="4 3" stroke-dashoffset="0.00"/>
<path d="M57.18 351.20H66.30" stroke="#33a02c" stroke-width="1.7" fill="none" stroke-dasharray="4 3" stroke-dashoffset="3.58"/>
<path d="M66.30 351.20H74.20" stroke="#33a02c" stroke-width="1.7" fill="none" stroke-dasharray="4 3" stroke-dashoffset="5.70"/>
<path d="M74.20 351.20H81.17" stroke="#33a02c" stroke-width="1.7" fill="none" stroke-dasharray="4 3" stroke-dashoffset="6.60"/>
<path d="M81.17 351.20H87.40" stroke="#33a02c" stroke-width="1.7" fill="none" stroke-dasharray="4 3" stroke-dashoffset="6.57"/>
<path d="M87.40 351.10H98.18" stroke="#33a02c" stroke-width="1.7" fill="none" stroke-dasharray="4 3" stroke-dashoffset="5.80"/>
<path d="M98.18 351.10H107.30" stroke="#33a02c" stroke-width="1.7" fill="none" stroke-dasharray="4 3" stroke-dashoffset="2.58"/>
<path d="M107.30 351.10H115.20" stroke="#33a02c" stroke-width="1.7" fill="none" stroke-dasharray="4 3" stroke-dashoffset="4.70"/>
<path d="M115.20 351.10H122.17" stroke="#33a02c" stroke-width="1.7" fill="none" stroke-dasharray="4 3" stroke-dashoffset="5.60"/>
<path d="M122.17 351.10H128.40" stroke="#33a02c" stroke-width="1.7" fill="none" stroke-dasharray="4 3" stroke-dashoffset="5.57"/>
<path d="M128.40 350.80H141.60" stroke="#33a02c" stroke-width="1.7" fill="none" stroke-dasharray="4 3" stroke-dashoffset="4.80"/>
<path d="M141.60 350.50H152.38" stroke="#33a02c" stroke-width="1.7" fill="none" stroke-dasharray="4 3" stroke-dashoffset="4.00"/>
<path d="M152.38 349.40H161.50" stroke="#33a02c" stroke-width="1.7" fill="none" stroke-dasharray="4 3" stroke-dashoffset="0.78"/>
<path d="M46.60 346.00H57.18M57.18 346.05H66.30M66.30 346.10H74.20M74.20 346.15H81.17M81.17 346.20H87.40M87.40 346.50H98.18M98.18 346.90H107.30M107.30 347.30H115.20M115.20 347.70H122.17M122.17 347.72H128.40M128.40 347.43H141.60M141.60 347.15H152.38M152.38 346.67H161.50M161.50 346.29H169.40M169.40 345.70H176.37M176.37 345.22H182.60M182.60 344.74H188.24M188.24 344.26H193.38M193.38 343.67H210.40M210.40 342.59H223.60M223.60 341.71H234.38M234.38 341.23H243.50M243.50 340.64H251.40M251.40 340.16H264.60M264.60 340.08H277.80M277.80 340.00H288.58M288.58 339.81H297.70M297.70 340.03H305.60M305.60 338.85H312.57M312.57 338.17H318.80M318.80 337.78H324.44M324.44 340.00H329.20" stroke="#b2df8a" stroke-width="1.4" fill="none"/>
<path d="M46.60 352.00H57.18M57.18 351.95H66.30M66.30 351.90H74.20M74.20 351.85H81.17M81.17 351.80H87.40M87.40 351.30H98.18M98.18 350.90H107.30M107.30 350.50H115.20M115.20 350.10H122.17M122.17 350.08H128.40M128.40 349.77H141.60M141.60 349.45H152.38M152.38 348.93H161.50M161.50 348.51H169.40M169.40 347.90H176.37M176.37 347.38H182.60M182.60 346.86H188.24M188.24 346.34H193.38M193.38 345.73H210.40M210.40 344.61H223.60M223.60 343.69H234.38M234.38 343.17H243.50M243.50 342.56H251.40M251.40 342.04H264.60M264.60 341.92H277.80M277.80 341.80H288.58M288.58 341.59H297.70M297.70 341.77H305.60M305.60 340.55H312.57M312.57 339.83H318.80M318.80 339.42H324.44M324.44 341.60H329.20" stroke="#b2df8a" stroke-width="1.4" fill="none"/>
<path d="M122.17 346.70H128.40" stroke="#1f78b4" stroke-width="1.7" fill="none" stroke-dasharray="4 3" stroke-dashoffset="2.07"/>
<path d="M128.40 346.38H141.60" stroke="#1f78b4" stroke-width="1.7" fill="none" stroke-dasharray="4 3" stroke-dashoffset="1.30"/>
<path d="M141.60 346.07H152.38" stroke="#1f78b4" stroke-width="1.7" fill="none" stroke-dasharray="4 3" stroke-dashoffset="0.50"/>
<path d="M152.38 345.55H161.50" stroke="#1f78b4" stroke-width="1.7" fill="none" stroke-dasharray="4 3" stroke-dashoffset="4.28"/>
<path d="M161.50 345.13H169.40" stroke="#1f78b4" stroke-width="1.7" fill="none" stroke-dasharray="4 3" stroke-dashoffset="6.40"/>
<path d="M169.40 344.52H176.37" stroke="#1f78b4" stroke-width="1.7" fill="none" stroke-dasharray="4 3" stroke-dashoffset="0.30"/>
<path d="M176.37 344.00H182.60" stroke="#1f78b4" stroke-width="1.7" fill="none" stroke-dasharray="4 3" stroke-dashoffset="0.27"/>
<path d="M182.60 344.40H188.24" stroke="#1f78b4" stroke-width="1.7" fill="none" stroke-dasharray="4 3" stroke-dashoffset="6.50"/>
<path d="M122.17 351.10H128.40" stroke="#1f78b4" stroke-width="1.7" fill="none" stroke-dasharray="4 3" stroke-dashoffset="2.07"/>
<path d="M128.40 350.82H141.60" stroke="#1f78b4" stroke-width="1.7" fill="none" stroke-dasharray="4 3" stroke-dashoffset="1.30"/>
<path d="M141.60 350.53H152.38" stroke="#1f78b4" stroke-width="1.7" fill="none" stroke-dasharray="4 3" stroke-dashoffset="0.50"/>
<path d="M152.38 350.05H161.50" stroke="#1f78b4" stroke-width="1.7" fill="none" stroke-dasharray="4 3" stroke-dashoffset="4.28"/>
<path d="M161.50 349.67H169.40" stroke="#1f78b4" stroke-width="1.7" fill="none" stroke-dasharray="4 3" stroke-dashoffset="6.40"/>
<path d="M169.40 349.08H176.37" stroke="#1f78b4" stroke-width="1.7" fill="none" stroke-dasharray="4 3" stroke-dashoffset="0.30"/>
<path d="M176.37 348.60H182.60" stroke="#1f78b4" stroke-width="1.7" fill="none" stroke-dasharray="4 3" stroke-dashoffset="0.27"/>
<path d="M182.60 347.20H188.24" stroke="#1f78b4" stroke-width="1.7" fill="none" stroke-dasharray="4 3" stroke-dashoffset="6.50"/>
<path d="M46.60 338.30H57.18M57.18 336.90H66.30M66.30 335.40H74.20M74.20 333.90H81.17M81.17 332.70H87.40M87.40 331.80H98.18M98.18 331.50H107.30M107.30 331.40H115.20M115.20 331.30H122.17M122.17 331.30H128.40M128.40 331.30H141.60M141.60 332.10H152.38M152.38 333.00H161.50M161.50 333.20H169.40M169.40 333.50H176.37M176.37 333.80H182.60M182.60 334.00H188.24M188.24 334.10H193.38M193.38 334.20H210.40M210.40 335.00H223.60M223.60 335.60H234.38M234.38 335.80H243.50M243.50 336.20H251.40M251.40 336.50H264.60M264.60 337.00H277.80M277.80 337.40H288.58M288.58 337.60H297.70M297.70 337.80H305.60M305.60 337.40H312.57M312.57 337.00H318.80M318.80 336.60H324.44M324.44 338.50H329.20" stroke="#a6cee3" stroke-width="1.4" fill="none"/>
<path d="M46.60 359.20H57.18M57.18 360.70H66.30M66.30 362.50H74.20M74.20 363.70H81.17M81.17 364.90H87.40M87.40 366.00H98.18M98.18 367.00H107.30M107.30 367.80H115.20M115.20 367.50H122.17M122.17 367.00H128.40M128.40 366.30H141.60M141.60 365.40H152.38M152.38 365.00H161.50M161.50 362.60H169.40M169.40 360.80H176.37M176.37 359.00H182.60M182.60 358.20H188.24M188.24 357.50H193.38M193.38 354.80H210.40M210.40 352.30H223.60M223.60 350.30H234.38M234.38 348.70H243.50M243.50 347.50H251.40M251.40 346.50H264.60M264.60 345.50H277.80M277.80 345.00H288.58M288.58 344.50H297.70M297.70 344.50H305.60M305.60 343.50H312.57M312.57 343.00H318.80M318.80 342.50H324.44M324.44 344.00H329.20" stroke="#a6cee3" stroke-width="1.4" fill="none"/>
<path d="M46.60 349.00H57.18M57.18 349.00H66.30M66.30 349.00H74.20M74.20 349.00H81.17M81.17 349.00H87.40M87.40 348.90H98.18M98.18 348.90H107.30M107.30 348.90H115.20M115.20 348.90H122.17M122.17 348.90H128.40M128.40 348.60H141.60M141.60 348.30H152.38M152.38 347.80H161.50M161.50 347.40H169.40M169.40 346.80H176.37M176.37 346.30H182.60M182.60 345.80H188.24M188.24 345.30H193.38M193.38 344.70H210.40M210.40 343.60H223.60M223.60 342.70H234.38M234.38 342.20H243.50M243.50 341.60H251.40M251.40 341.10H264.60M264.60 341.00H277.80M277.80 340.90H288.58M288.58 340.70H297.70M297.70 340.90H305.60M305.60 339.70H312.57M312.57 339.00H318.80M318.80 338.60H324.44M324.44 340.80H329.20" stroke="#000" stroke-width="1.7" fill="none"/></g>
<text x="120.50" y="208.2" font-size="9.8">10<tspan dx="0.5" dy="-4.4" font-size="6.8">2</tspan></text>
<text x="256.70" y="208.2" font-size="9.8">10<tspan dx="0.5" dy="-4.4" font-size="6.8">3</tspan></text>
<text x="120.50" y="476.8" font-size="9.8">10<tspan dx="0.5" dy="-4.4" font-size="6.8">2</tspan></text>
<text x="256.70" y="476.8" font-size="9.8">10<tspan dx="0.5" dy="-4.4" font-size="6.8">3</tspan></text>
<path d="M55.3 132.00H77" stroke="#2b8ab4" stroke-width="1.5"/>
<text x="85.6" y="135.50" font-size="10">Total Uncertainty</text>
<path d="M55.3 144.45H77" stroke="#c5acd8" stroke-width="1.5"/>
<text x="85.6" y="147.95" font-size="10">Hadrons,</text>
<text x="130.6" y="147.95" font-size="10" font-style="italic">p</text>
<text transform="translate(142.2 147.75) scale(1.2 1)" text-anchor="middle" font-family="Liberation Serif" font-size="10.5" style="stroke-width:0.05px">&gt;</text>
<text x="148.5" y="147.95" font-size="10">350 GeV</text>
<path d="M55.3 156.90H77" stroke="#fdbe72" stroke-width="1.6"/>
<text x="85.8" y="158.90" font-size="10" font-style="italic">K</text>
<text x="91.6" y="161.30" font-size="7.2" font-style="italic">L</text>
<path d="M55.3 169.35H77" stroke="#e31a1c" stroke-width="1.7000000000000002" stroke-dasharray="3.5 3.2"/>
<text x="85.6" y="172.85" font-size="10">Neutral</text>
<path d="M55.3 181.80H77" stroke="#fb9a99" stroke-width="1.5"/>
<text x="85.6" y="185.30" font-size="10">CTB</text>
<path d="M208.8 132.60H229.8" stroke="#33a02c" stroke-width="1.8" stroke-dasharray="4 3"/>
<text x="238.4" y="136.10" font-size="10.15">E/p Zero Fraction</text>
<path d="M208.8 145.05H229.8" stroke="#b2df8a" stroke-width="1.5"/>
<text x="238.4" y="148.55" font-size="10.15">E/p Threshold</text>
<path d="M208.8 157.50H229.8" stroke="#1f78b4" stroke-width="1.8" stroke-dasharray="4 3"/>
<text x="238.4" y="161.00" font-size="10.15">E/p Misalignment</text>
<path d="M208.8 169.95H229.8" stroke="#a6cee3" stroke-width="1.5"/>
<text x="238.4" y="173.45" font-size="10.15">In situ E/p</text>
<path d="M208.8 182.40H229.8" stroke="#000" stroke-width="1.8"/>
<text x="238.4" y="185.90" font-size="10.15">Mean Response</text>
<path d="M55.3 400.60H77" stroke="#2b8ab4" stroke-width="1.5"/>
<text x="85.6" y="404.10" font-size="10">Total Uncertainty</text>
<path d="M55.3 413.05H77" stroke="#c5acd8" stroke-width="1.5"/>
<text x="85.6" y="416.55" font-size="10">Hadrons,</text>
<text x="130.6" y="416.55" font-size="10" font-style="italic">p</text>
<text transform="translate(142.2 416.35) scale(1.2 1)" text-anchor="middle" font-family="Liberation Serif" font-size="10.5" style="stroke-width:0.05px">&gt;</text>
<text x="148.5" y="416.55" font-size="10">350 GeV</text>
<path d="M55.3 425.50H77" stroke="#fdbe72" stroke-width="1.6"/>
<text x="85.8" y="427.50" font-size="10" font-style="italic">K</text>
<text x="91.6" y="429.90" font-size="7.2" font-style="italic">L</text>
<path d="M55.3 437.95H77" stroke="#e31a1c" stroke-width="1.7000000000000002" stroke-dasharray="3.5 3.2"/>
<text x="85.6" y="441.45" font-size="10">Neutral</text>
<path d="M55.3 450.40H77" stroke="#fb9a99" stroke-width="1.5"/>
<text x="85.6" y="453.90" font-size="10">CTB</text>
<path d="M208.8 401.20H229.8" stroke="#33a02c" stroke-width="1.8" stroke-dasharray="4 3"/>
<text x="238.4" y="404.70" font-size="10.15">E/p Zero Fraction</text>
<path d="M208.8 413.65H229.8" stroke="#b2df8a" stroke-width="1.5"/>
<text x="238.4" y="417.15" font-size="10.15">E/p Threshold</text>
<path d="M208.8 426.10H229.8" stroke="#1f78b4" stroke-width="1.8" stroke-dasharray="4 3"/>
<text x="238.4" y="429.60" font-size="10.15">E/p Misalignment</text>
<path d="M208.8 438.55H229.8" stroke="#a6cee3" stroke-width="1.5"/>
<text x="238.4" y="442.05" font-size="10.15">In situ E/p</text>
<path d="M208.8 451.00H229.8" stroke="#000" stroke-width="1.8"/>
<text x="238.4" y="454.50" font-size="10.15">Mean Response</text>
<text x="56.6" y="20.0" font-size="10" font-weight="bold" font-style="italic">ATLAS</text><text x="57.8" y="32.30" text-anchor="middle" font-family="Liberation Serif" font-size="11.5">|</text><text x="61.7" y="31.80" text-anchor="middle" font-family="Liberation Serif" font-style="italic" font-size="10.5">η</text><text x="65.6" y="32.30" text-anchor="middle" font-family="Liberation Serif" font-size="11.5">|</text><text transform="translate(73.8 31.60) scale(1.22 1)" text-anchor="middle" font-family="Liberation Serif" font-size="10.5" style="stroke-width:0.05px">&lt;</text><text x="80.1" y="31.80" font-size="10">0.6</text><text x="57" y="43.00" font-size="10">PYTHIA8 Dijet 8 TeV</text>
<text x="56.6" y="292.8" font-size="10" font-weight="bold" font-style="italic">ATLAS</text><text x="55.7" y="304.60" font-size="10">0.6</text><text transform="translate(76.7 304.40) scale(1.22 1)" text-anchor="middle" font-family="Liberation Serif" font-size="10.5" style="stroke-width:0.05px">&lt;</text><text x="85.7" y="305.10" text-anchor="middle" font-family="Liberation Serif" font-size="11.5">|</text><text x="89.5" y="304.60" text-anchor="middle" font-family="Liberation Serif" font-style="italic" font-size="10.5">η</text><text x="93.5" y="305.10" text-anchor="middle" font-family="Liberation Serif" font-size="11.5">|</text><text transform="translate(102 304.40) scale(1.22 1)" text-anchor="middle" font-family="Liberation Serif" font-size="10.5" style="stroke-width:0.05px">&lt;</text><text x="108.4" y="304.60" font-size="10">1.1</text><text x="57" y="317.20" font-size="10">PYTHIA8 Dijet 8 TeV</text>
<text class="ns" transform="translate(11.1 48.3) rotate(-90)" text-anchor="middle" font-size="12.8">Mean Response</text>
<text class="ns" transform="translate(11.1 315.7) rotate(-90)" text-anchor="middle" font-size="12.8">Mean Response</text>
<text x="330.2" y="221.2" text-anchor="end" font-size="13">Jet <tspan font-style="italic">p</tspan><tspan font-style="italic" font-size="9" dy="2.6">T</tspan><tspan dy="-2.6"> [GeV]</tspan></text>
<text x="330.2" y="492.6" text-anchor="end" font-size="13">Jet <tspan font-style="italic">p</tspan><tspan font-style="italic" font-size="9" dy="2.6">T</tspan><tspan dy="-2.6"> [GeV]</tspan></text>
<text x="166.5" y="245.6" text-anchor="middle" font-family="Liberation Serif" font-weight="bold" font-size="16">(a)</text>
<text x="166.7" y="510" text-anchor="middle" font-family="Liberation Serif" font-weight="bold" font-size="16">(b)</text>
</svg>
</body></html>
